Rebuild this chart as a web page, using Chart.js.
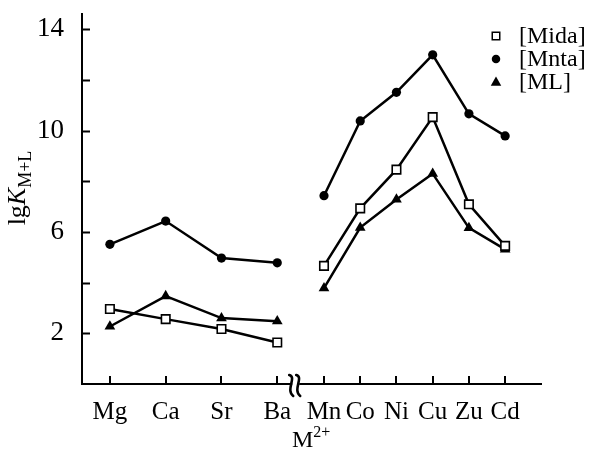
<!DOCTYPE html>
<html>
<head>
<meta charset="utf-8">
<script src="https://cdn.jsdelivr.net/npm/chart.js@4/dist/chart.umd.min.js"></script>
<style>
  body { margin: 0; background: #fff; }
  #wrap { width: 595px; height: 450px; }
</style>
</head>
<body>
<div id="wrap"><canvas id="chart" width="595" height="450"></canvas></div>
<script>
// ---------------- data ----------------
const metals = ['Mg', 'Ca', 'Sr', 'Ba', 'Mn', 'Co', 'Ni', 'Cu', 'Zu', 'Cd'];
// place of each metal on the (broken) x axis, the alkaline earths are spread wider
const metalPos = [0, 1.54, 3.08, 4.62, 5.91, 6.91, 7.91, 8.91, 9.91, 10.91];
const breakAfter = 3;      // no line between Ba and Mn
const breakAt = 5.06;      // where the axis break mark sits

const mida = [2.96, 2.56, 2.17, 1.64, 4.66, 6.93, 8.46, 10.53, 7.09, 5.45];
const mnta = [5.51, 6.43, 4.97, 4.78, 7.43, 10.38, 11.51, 12.99, 10.66, 9.79];
const ml   = [2.27, 3.47, 2.60, 2.48, 3.78, 6.17, 7.28, 8.30, 6.16, 5.31];

const yTicks = [2, 4, 6, 8, 10, 12, 14];
const yLabelled = [2, 6, 10, 14];

const FONT = "'Liberation Serif', 'DejaVu Serif', serif";
Chart.defaults.font.family = FONT;
Chart.defaults.color = '#000';

const toPoints = vals => vals.map((v, i) => ({ x: metalPos[i], y: v }));
const gapSegment = { borderColor: c => c.p0DataIndex === breakAfter ? 'rgba(0,0,0,0)' : '#000' };

function mark(ctx, style, x, y, s) { // small legend markers
    ctx.beginPath();
    if (style === 'rect') {
        ctx.rect(x - s / 2, y - s / 2, s, s);
        ctx.fillStyle = '#fff'; ctx.fill();
        ctx.lineWidth = 1.5; ctx.strokeStyle = '#000'; ctx.stroke();
    } else if (style === 'circle') {
        ctx.arc(x, y, s / 2, 0, Math.PI * 2);
        ctx.fillStyle = '#000'; ctx.fill();
    } else {
        const h = s * 0.87;
        ctx.moveTo(x, y - h * 0.6);
        ctx.lineTo(x + s / 2, y + h * 0.4);
        ctx.lineTo(x - s / 2, y + h * 0.4);
        ctx.closePath();
        ctx.fillStyle = '#000'; ctx.fill();
    }
}

const decorations = {
    id: 'decorations',
    afterDraw(chart) {
        const { ctx, chartArea: a, scales: { x, y } } = chart;
        ctx.save();
        ctx.strokeStyle = '#000';
        ctx.lineWidth = 2;
        // inward tick marks
        yTicks.forEach(v => {
            const py = Math.round(y.getPixelForValue(v)) + 0.5;
            ctx.beginPath(); ctx.moveTo(a.left, py); ctx.lineTo(a.left + 8, py); ctx.stroke();
        });
        metalPos.forEach(v => {
            const px = Math.round(x.getPixelForValue(v));
            ctx.beginPath(); ctx.moveTo(px, a.bottom); ctx.lineTo(px, a.bottom - 8); ctx.stroke();
        });

        // axis break
        const bx = x.getPixelForValue(breakAt);
        const by = a.bottom;
        ctx.fillStyle = '#fff';
        ctx.fillRect(bx - 1, by - 3, 7, 6);
        ctx.lineWidth = 2.6;
        ctx.lineCap = 'round';
        [-2, 5].forEach(off => {
            ctx.beginPath();
            ctx.moveTo(bx + off - 2, by - 9);
            ctx.bezierCurveTo(bx + off + 6, by - 7, bx + off - 6, by + 6, bx + off + 2, by + 12);
            ctx.stroke();
        });

        // y title: lgK_{M+L}
        ctx.translate(25, 188);
        ctx.rotate(-Math.PI / 2);
        ctx.fillStyle = '#000';
        ctx.textBaseline = 'alphabetic';
        const p1 = 'lg', p2 = 'K', p3 = 'M+L';
        ctx.font = `26px ${FONT}`;
        const w1 = ctx.measureText(p1).width;
        ctx.font = `italic 26px ${FONT}`;
        const w2 = ctx.measureText(p2).width;
        ctx.font = `18px ${FONT}`;
        const w3 = ctx.measureText(p3).width;
        let sx = -(w1 + w2 + w3) / 2;
        ctx.font = `26px ${FONT}`;
        ctx.fillText(p1, sx, 0); sx += w1;
        ctx.font = `italic 26px ${FONT}`;
        ctx.fillText(p2, sx, 0); sx += w2;
        ctx.font = `18px ${FONT}`;
        ctx.fillText(p3, sx, 6);
        ctx.setTransform(1, 0, 0, 1, 0, 0);

        // x title: M^{2+}
        ctx.font = `24px ${FONT}`;
        const mw = ctx.measureText('M').width;
        ctx.fillText('M', 292, 447);
        ctx.font = `16px ${FONT}`;
        ctx.fillText('2+', 292 + mw, 437);

        // legend
        const styles = ['rect', 'circle', 'triangle'];
        const sizes = [7.5, 8.5, 10.5];
        chart.data.datasets.forEach((ds, i) => {
            const ry = 36 + i * 23;
            mark(ctx, styles[i], 496, ry, sizes[i]);
            ctx.font = `24px ${FONT}`;
            ctx.fillStyle = '#000';
            ctx.fillText(ds.label, 519, ry + 7);
        });
        ctx.restore();
    }
};

new Chart(document.getElementById('chart'), {
    type: 'line',
    data: {
        datasets: [
            {
                label: '[Mida]', data: toPoints(mida),
                borderColor: '#000', borderWidth: 2.5, segment: gapSegment,
                pointStyle: 'rect', pointRadius: 6, pointBackgroundColor: '#fff',
                pointBorderColor: '#000', pointBorderWidth: 1.6
            },
            {
                label: '[Mnta]', data: toPoints(mnta),
                borderColor: '#000', borderWidth: 2.5, segment: gapSegment,
                pointStyle: 'circle', pointRadius: 4.6, pointBackgroundColor: '#000',
                pointBorderColor: '#000', pointBorderWidth: 0
            },
            {
                label: '[ML]', data: toPoints(ml),
                borderColor: '#000', borderWidth: 2.5, segment: gapSegment,
                pointStyle: 'triangle', pointRadius: 6.2, pointBackgroundColor: '#000',
                pointBorderColor: '#000', pointBorderWidth: 0
            }
        ]
    },
    options: {
        responsive: false,
        animation: false,
        layout: { padding: { top: 14, right: 54, left: 0, bottom: 0 } },
        plugins: { legend: { display: false }, tooltip: { enabled: false } },
        scales: {
            x: {
                type: 'linear', min: -0.77, max: 11.9,
                grid: { display: false },
                border: { display: true, color: '#000', width: 2 },
                afterBuildTicks: s => { s.ticks = metalPos.map(v => ({ value: v })); },
                afterFit: s => { s.height = 66; s.paddingLeft = 0; s.paddingRight = 0; },
                ticks: {
                    autoSkip: false, maxRotation: 0, padding: 5,
                    font: { size: 25 },
                    callback: (v, i) => metals[i]
                }
            },
            y: {
                min: 0, max: 14.6,
                grid: { display: false },
                border: { display: true, color: '#000', width: 2 },
                afterBuildTicks: s => { s.ticks = yTicks.map(v => ({ value: v })); },
                afterFit: s => { s.width = 82; s.paddingTop = 0; s.paddingBottom = 0; },
                ticks: {
                    padding: 10,
                    font: { size: 27 },
                    callback: v => yLabelled.includes(v) ? String(v) : ''
                }
            }
        }
    },
    plugins: [decorations]
});
</script>
</body>
</html>
